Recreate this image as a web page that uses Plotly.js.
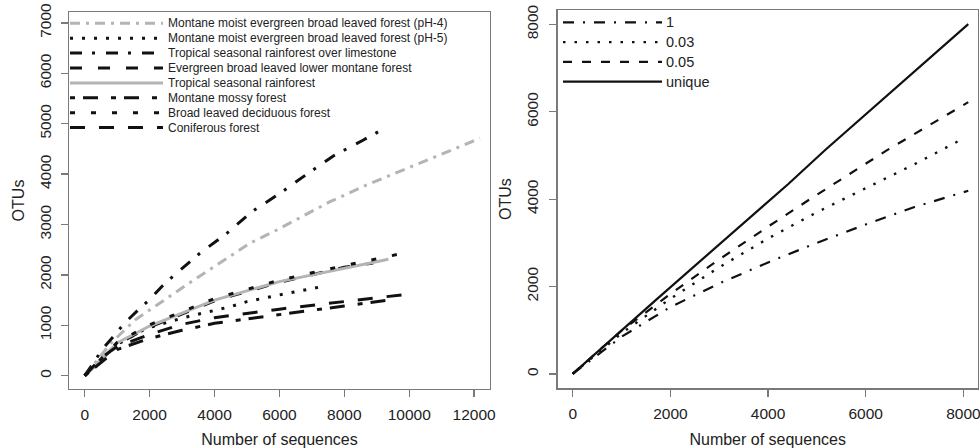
<!DOCTYPE html>
<html><head><meta charset="utf-8">
<script src="https://cdn.plot.ly/plotly-3.0.1.min.js"></script>
<style>html,body{margin:0;padding:0;background:#fff}#chart{width:980px;height:448px}</style>
</head><body><div id="chart"></div>
<script>
// ---------- LEFT PANEL DATA ----------
const leftNames = [
  "Montane moist evergreen broad leaved forest (pH-4)",
  "Montane moist evergreen broad leaved forest (pH-5)",
  "Tropical seasonal rainforest over limestone",
  "Evergreen broad leaved lower montane forest",
  "Tropical seasonal rainforest",
  "Montane mossy forest",
  "Broad leaved deciduous forest",
  "Coniferous forest"
];
const x_pH4 = [0, 800, 1550, 2370, 3210, 5090, 5920, 7560, 8690, 12180];
const y_pH4 = [0, 640, 1105, 1469, 1833, 2627, 2891, 3452, 3784, 4710];
const x_pH5 = [0, 1000, 1900, 3100, 4500, 5000, 6100, 7200];
const y_pH5 = [0, 620, 940, 1160, 1370, 1470, 1615, 1754];
const x_limestone = [0, 570, 880, 1240, 1650, 2010, 2370, 2730, 3550, 4380, 5150, 6020, 6840, 7660, 8590, 9050];
const y_limestone = [0, 544, 774, 1052, 1304, 1516, 1766, 1978, 2429, 2825, 3254, 3619, 3996, 4360, 4677, 4841];
const x_lowerMontane = [0, 1000, 2000, 4000, 6000, 8000, 8890];
const y_lowerMontane = [0, 630, 965, 1485, 1855, 2150, 2235];
const x_tropical = [0, 1000, 2000, 4000, 6000, 8000, 9360];
const y_tropical = [0, 648, 986, 1500, 1866, 2131, 2310];
const x_mossy = [0, 1000, 2000, 3000, 4000, 6000, 8000, 9410];
const y_mossy = [0, 520, 740, 900, 1040, 1204, 1383, 1502];
const x_deciduous = [0, 1000, 2000, 4000, 6000, 8000, 9820];
const y_deciduous = [0, 660, 1010, 1530, 1895, 2185, 2430];
const x_coniferous = [0, 500, 1000, 2000, 3000, 4000, 6000, 8000, 10000];
const y_coniferous = [0, 350, 580, 820, 1020, 1150, 1320, 1468, 1621];

// ---------- RIGHT PANEL DATA ----------
const rightNames = ["1", "0.03", "0.05", "unique"];
const x_d1 = [0, 1000, 2000, 3000, 4000, 5000, 6000, 7000, 8100];
const y_d1 = [0, 850, 1530, 2070, 2550, 3000, 3420, 3820, 4192];
const x_d003 = [0, 1000, 2000, 3000, 4000, 5000, 6000, 7000, 7900];
const y_d003 = [0, 930, 1720, 2440, 3100, 3700, 4250, 4800, 5330];
const x_d005 = [0, 1000, 2000, 3000, 4000, 4860, 6430, 8100];
const y_d005 = [0, 990, 1830, 2620, 3370, 4000, 5117, 6220];
const x_unique = [0, 1700, 4415, 5160, 5170, 8100];
const y_unique = [0, 1690, 4347, 5095, 5125, 8007];

const leftTicksX = [0, 2000, 4000, 6000, 8000, 10000, 12000];
const leftTicksY = [0, 1000, 2000, 3000, 4000, 5000, 6000, 7000];
const rightTicksX = [0, 2000, 4000, 6000, 8000];
const rightTicksY = [0, 2000, 4000, 6000, 8000];

// ---------- STYLES ----------
const GRAY = '#b4b4b4';
const leftStyles = [
  {color: GRAY, width: 3, dash: '10px,6px,3px,6px'},
  {color: '#111', width: 3, dash: '3px,9px'},
  {color: '#111', width: 3, dash: '12px,10px,3px,11px'},
  {color: '#111', width: 3, dash: '12px,16px'},
  {color: GRAY, width: 3, dash: 'solid'},
  {color: '#111', width: 3, dash: '5px,8px,15px,13px'},
  {color: '#111', width: 3, dash: '5px,16px'},
  {color: '#111', width: 3, dash: '15px,14px'}
];
const rightStyles = [
  {color: '#111', width: 2.2, dash: '11px,9px,2px,9px'},
  {color: '#111', width: 2.4, dash: '2.5px,9px'},
  {color: '#111', width: 2.2, dash: '9px,10px'},
  {color: '#111', width: 2.2, dash: 'solid'}
];

const leftX = [x_pH4, x_pH5, x_limestone, x_lowerMontane, x_tropical, x_mossy, x_deciduous, x_coniferous];
const leftY = [y_pH4, y_pH5, y_limestone, y_lowerMontane, y_tropical, y_mossy, y_deciduous, y_coniferous];
const rightX = [x_d1, x_d003, x_d005, x_unique];
const rightY = [y_d1, y_d003, y_d005, y_unique];

function hasFont(name) {
  const c = document.createElement('canvas').getContext('2d');
  const s = 'Montane moist evergreen broad leaved forest';
  c.font = '20px monospace'; const a = c.measureText(s).width;
  c.font = '20px "' + name + '", monospace'; const b = c.measureText(s).width;
  return Math.abs(a - b) > 0.5;
}
const NARROW = hasFont('Liberation Sans Narrow');
const legFont = NARROW ? '"Liberation Sans Narrow", "Liberation Sans", sans-serif' : '"Liberation Sans", Arial, sans-serif';
const legSizeL = NARROW ? 14 : 12;
const legSizeR = NARROW ? 17 : 14.5;
const AX = '"Liberation Sans", Arial, Helvetica, sans-serif';

const traces = [];
leftNames.forEach((n, i) => {
  traces.push({x: leftX[i], y: leftY[i], name: n, type: 'scatter', mode: 'lines',
    line: leftStyles[i], xaxis: 'x', yaxis: 'y', showlegend: false, hoverinfo: 'skip'});
});
rightNames.forEach((n, i) => {
  traces.push({x: rightX[i], y: rightY[i], name: n, type: 'scatter', mode: 'lines',
    line: rightStyles[i], xaxis: 'x2', yaxis: 'y2', showlegend: false, hoverinfo: 'skip'});
});

const W = 980, H = 448;
const shapes = [], annotations = [];
leftNames.forEach((n, i) => {
  const yy = 1 - (23.3 + i * 14.9) / H;
  shapes.push({type: 'line', xref: 'paper', yref: 'paper', x0: 70 / W, x1: 163 / W, y0: yy, y1: yy, line: leftStyles[i]});
  annotations.push({text: n, xref: 'paper', yref: 'paper', x: 166 / W, y: yy, xanchor: 'left', yanchor: 'middle',
    showarrow: false, font: {family: legFont, size: legSizeL, color: '#222'}});
});
rightNames.forEach((n, i) => {
  const yy = 1 - (22.3 + i * 19.8) / H;
  shapes.push({type: 'line', xref: 'paper', yref: 'paper', x0: 563 / W, x1: 662 / W, y0: yy, y1: yy, line: rightStyles[i]});
  annotations.push({text: n, xref: 'paper', yref: 'paper', x: 664 / W, y: yy, xanchor: 'left', yanchor: 'middle',
    showarrow: false, font: {family: legFont, size: legSizeR, color: '#222'}});
});

function axisBase(extra) {
  return Object.assign({
    showline: true, mirror: true, linecolor: '#7a7a7a', linewidth: 1.3,
    ticks: 'outside', ticklen: 7, tickcolor: '#7a7a7a', tickwidth: 1.3,
    showgrid: false, zeroline: false, tickmode: 'array',
    tickfont: {family: AX, size: 15.5, color: '#222'},
    automargin: false, fixedrange: true, ticklabeloverflow: 'allow'
  }, extra);
}
const titleFont = {family: AX, size: 16, color: '#222'};

const layout = {
  width: W, height: H, margin: {l: 0, r: 0, t: 0, b: 0},
  paper_bgcolor: '#fff', plot_bgcolor: '#fff', showlegend: false,
  xaxis: axisBase({domain: [69 / W, 490 / W], range: [-484, 12490], tickvals: leftTicksX, ticktext: leftTicksX.map(String),
    anchor: 'y', title: {text: 'Number of sequences', standoff: 12, font: titleFont}, ticklabelstandoff: 4}),
  yaxis: axisBase({domain: [(H - 389) / H, (H - 12) / H], range: [-264, 7216], tickvals: leftTicksY, ticktext: leftTicksY.map(String),
    anchor: 'x', tickangle: -90, title: {text: 'OTUs', standoff: 8, font: titleFont}, ticklabelstandoff: 4}),
  xaxis2: axisBase({domain: [557.7 / W, 977.7 / W], range: [-307, 8293], tickvals: rightTicksX, ticktext: rightTicksX.map(String),
    anchor: 'y2', title: {text: 'Number of sequences', standoff: 12, font: titleFont}, ticklabelstandoff: 4}),
  yaxis2: axisBase({domain: [(H - 388.3) / H, (H - 10) / H], range: [-330, 8330], tickvals: rightTicksY, ticktext: rightTicksY.map(String),
    anchor: 'x2', tickangle: -90, title: {text: 'OTUs', standoff: 8, font: titleFont}, ticklabelstandoff: 5}),
  shapes: shapes, annotations: annotations
};

Plotly.newPlot('chart', traces, layout, {staticPlot: true, displayModeBar: false});
</script>
</body></html>
